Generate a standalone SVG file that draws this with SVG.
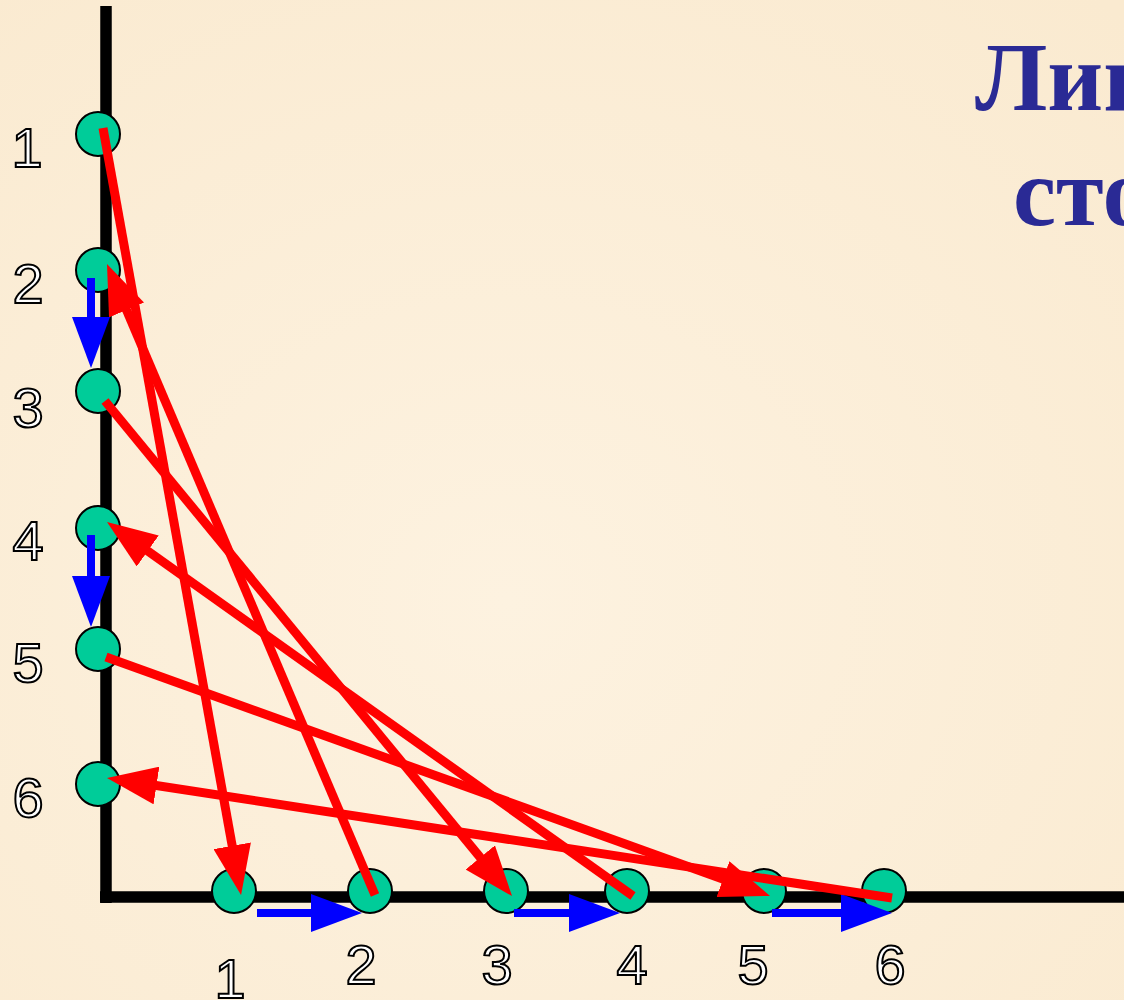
<svg xmlns="http://www.w3.org/2000/svg" width="1124" height="1000" viewBox="0 0 1124 1000">
<defs>
<radialGradient id="bg" cx="0.45" cy="0.6" r="0.8">
<stop offset="0" stop-color="#FDF2E0"/>
<stop offset="1" stop-color="#FAEAD0"/>
</radialGradient>
<marker id="hr" viewBox="0 0 50 38" markerUnits="userSpaceOnUse" markerWidth="50" markerHeight="38" refX="30" refY="19" orient="auto">
<path d="M0,0 L50,19 L0,38 z" fill="#FF0000"/>
</marker>
<marker id="hb" viewBox="0 0 51 38" markerUnits="userSpaceOnUse" markerWidth="51" markerHeight="38" refX="31" refY="19" orient="auto">
<path d="M0,0 L51,19 L0,38 z" fill="#0000FF"/>
</marker>
</defs>
<style>
.axis{stroke:#000;stroke-width:11.5;fill:none}
.node circle{fill:#00CC99;stroke:#000;stroke-width:2}
.lbl{font-family:"Liberation Sans",Arial,sans-serif;font-size:56px;fill:#fff;stroke:#000;stroke-width:2;text-anchor:middle}
.red{stroke:#FF0000;stroke-width:9;fill:none;marker-end:url(#hr)}
.blue{stroke:#0000FF;stroke-width:8;fill:none;marker-end:url(#hb)}
.title{font-family:"Liberation Serif","Times New Roman",serif;font-weight:bold;font-size:97px;fill:#2A2A95}
</style>
<rect width="1124" height="1000" fill="url(#bg)"/>
<g id="axes">
<line class="axis" x1="106" y1="6" x2="106" y2="903"/>
<line class="axis" x1="100" y1="897" x2="1124" y2="897"/>
</g>
<g id="title">
<text class="title" x="975" y="110">Лин</text>
<text class="title" x="1013" y="225">сто</text>
</g>
<g id="v1" class="node"><circle cx="98" cy="134" r="22"/><text class="lbl" x="27" y="167">1</text></g>
<g id="v2" class="node"><circle cx="98" cy="270" r="22"/><text class="lbl" x="28" y="303">2</text></g>
<g id="v3" class="node"><circle cx="98" cy="391" r="22"/><text class="lbl" x="28" y="427">3</text></g>
<g id="v4" class="node"><circle cx="98" cy="528" r="22"/><text class="lbl" x="28" y="560">4</text></g>
<g id="v5" class="node"><circle cx="98" cy="649" r="22"/><text class="lbl" x="28" y="682">5</text></g>
<g id="v6" class="node"><circle cx="98" cy="784" r="22"/><text class="lbl" x="28" y="817">6</text></g>
<g id="h1" class="node"><circle cx="234" cy="891" r="22"/><text class="lbl" x="230" y="998">1</text></g>
<g id="h2" class="node"><circle cx="370" cy="891" r="22"/><text class="lbl" x="361" y="984">2</text></g>
<g id="h3" class="node"><circle cx="506" cy="891" r="22"/><text class="lbl" x="497" y="984">3</text></g>
<g id="h4" class="node"><circle cx="627" cy="891" r="22"/><text class="lbl" x="632" y="984">4</text></g>
<g id="h5" class="node"><circle cx="764" cy="891" r="22"/><text class="lbl" x="753" y="984">5</text></g>
<g id="h6" class="node"><circle cx="884" cy="891" r="22"/><text class="lbl" x="890" y="984">6</text></g>
<g id="connectors">
<line class="blue" x1="91" y1="278" x2="91" y2="348"/>
<line class="blue" x1="91" y1="535" x2="91" y2="607"/>
<line class="blue" x1="257" y1="913" x2="342" y2="913"/>
<line class="blue" x1="514" y1="913" x2="600" y2="913"/>
<line class="blue" x1="772" y1="913" x2="872" y2="913"/>
<line class="red" x1="103" y1="128" x2="237.5" y2="875.3"/>
<line class="red" x1="375" y1="895" x2="114.8" y2="282.4"/>
<line class="red" x1="105" y1="401" x2="499.3" y2="880.6"/>
<line class="red" x1="633" y1="896" x2="123.3" y2="533.6"/>
<line class="red" x1="106" y1="657" x2="751.2" y2="889.2"/>
<line class="red" x1="892" y1="898" x2="126.8" y2="781"/>
</g>
</svg>
